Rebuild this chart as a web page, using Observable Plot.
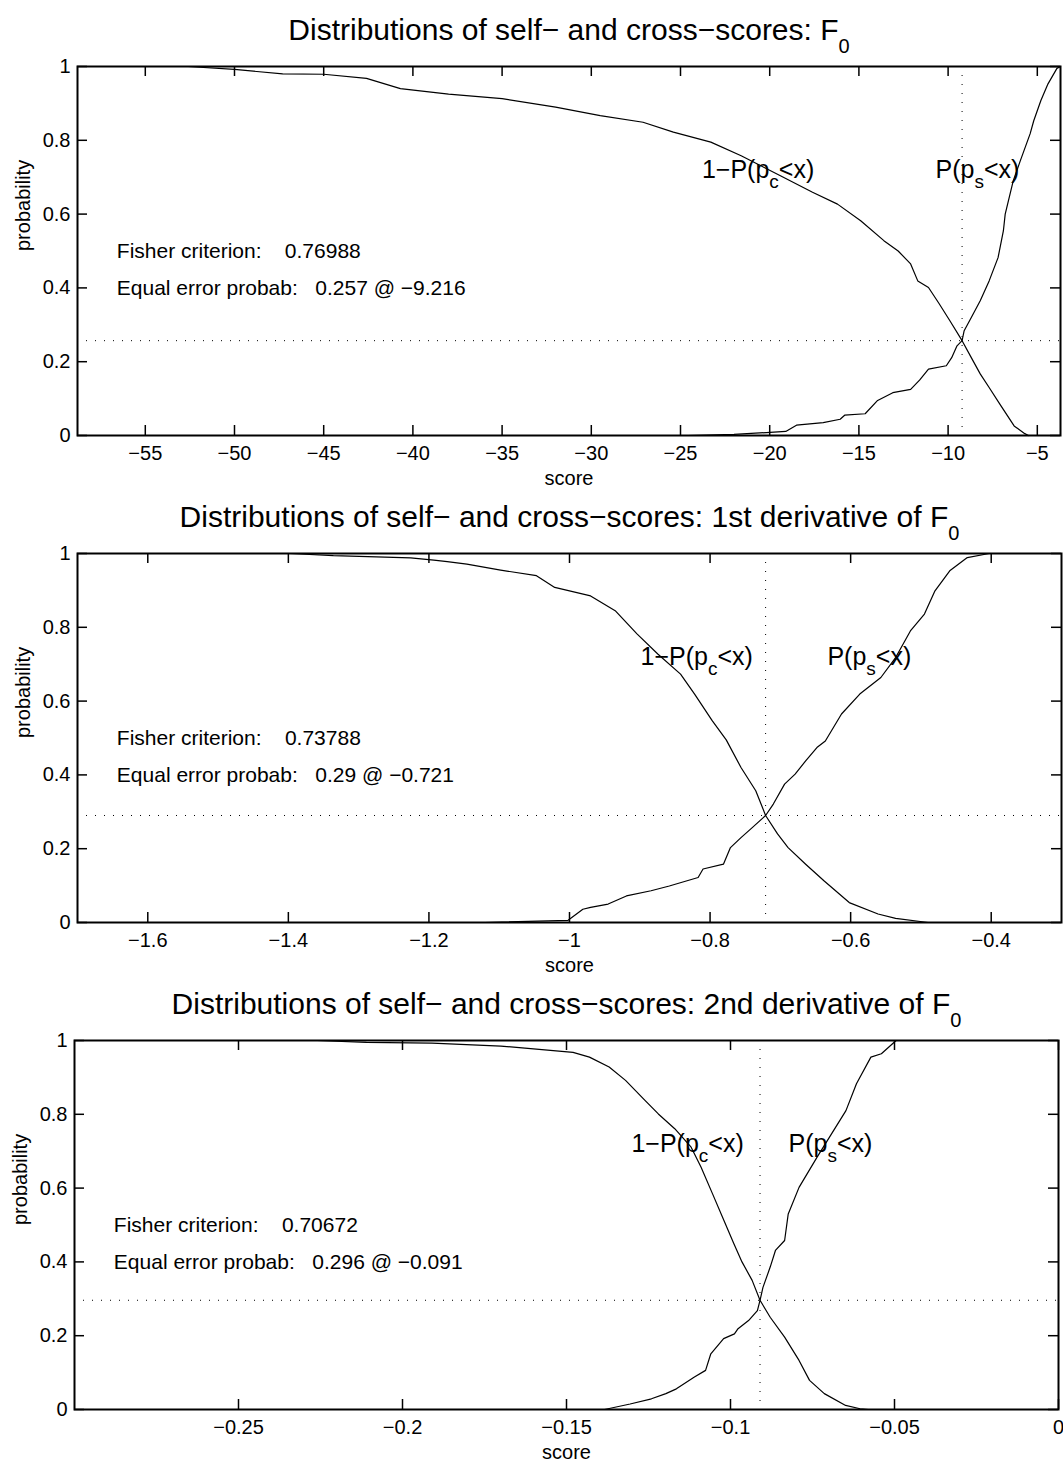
<!DOCTYPE html>
<html><head><meta charset="utf-8">
<script src="https://cdn.jsdelivr.net/npm/d3@7"></script>
<script src="https://cdn.jsdelivr.net/npm/@observablehq/plot@0.6"></script>
<style>
body{margin:0;background:#fff;}
#wrap{position:relative;width:1063px;height:1463px;overflow:hidden;background:#fff;}
#wrap > div{position:absolute;left:0;}
svg text{white-space:pre;}
</style></head>
<body><div id="wrap"></div>
<script>
// ---------- data ----------
const yTicks = [0, 0.2, 0.4, 0.6, 0.8, 1];
const p1XTicks = [-55, -50, -45, -40, -35, -30, -25, -20, -15, -10, -5];
const p2XTicks = [-1.6, -1.4, -1.2, -1, -0.8, -0.6, -0.4];
const p3XTicks = [-0.25, -0.2, -0.15, -0.1, -0.05, 0];

const titles = [
  "Distributions of self− and cross−scores: F_0",
  "Distributions of self− and cross−scores: 1st derivative of F_0",
  "Distributions of self− and cross−scores: 2nd derivative of F_0"
];
const curveLabels = ["1−P(p_c<x)", "P(p_s<x)"];
const xLabel = "score";
const yLabel = "probability";
const fisher = ["0.76988", "0.73788", "0.70672"];
const eerProb = [0.257, 0.29, 0.296];
const eerScore = [-9.216, -0.721, -0.091];

// panel 1: F0
const p1CrossX = [-58.8, -52.6, -50, -47.3, -45, -42.6, -40.7, -38, -35, -32, -29.5, -27.1, -25.4, -23.3, -21.6, -19.4, -17.6, -16.2, -14.9, -13.6, -12.8, -12.1, -11.7, -11.1, -10.5, -9.9, -9.216, -8.7, -8.2, -7.7, -7.1, -6.3, -5.7, -5.5];
const p1CrossY = [1, 1, 0.992, 0.98, 0.979, 0.968, 0.94, 0.925, 0.913, 0.89, 0.867, 0.849, 0.822, 0.795, 0.758, 0.704, 0.659, 0.627, 0.582, 0.528, 0.5, 0.465, 0.419, 0.401, 0.357, 0.311, 0.257, 0.211, 0.167, 0.13, 0.085, 0.026, 0.005, 0];
const p1SelfX = [-58.8, -24.6, -22, -20.2, -19.1, -18.5, -17.0, -16.05, -15.8, -14.65, -13.95, -13.1, -12.1, -11.6, -11.1, -10.1, -9.8, -9.5, -9.216, -9.1, -8.7, -8.2, -7.7, -7.2, -6.9, -6.8, -6.35, -5.95, -5.4, -5.2, -4.8, -4.4, -3.9, -3.7];
const p1SelfY = [0, 0, 0.003, 0.008, 0.011, 0.028, 0.035, 0.044, 0.055, 0.059, 0.095, 0.116, 0.125, 0.15, 0.18, 0.189, 0.211, 0.243, 0.257, 0.284, 0.32, 0.365, 0.419, 0.482, 0.555, 0.6, 0.69, 0.745, 0.818, 0.853, 0.908, 0.953, 0.995, 1];

// panel 2: 1st derivative
const p2CrossX = [-1.70, -1.397, -1.336, -1.226, -1.193, -1.174, -1.146, -1.098, -1.047, -1.021, -0.970, -0.935, -0.904, -0.874, -0.842, -0.822, -0.797, -0.777, -0.756, -0.735, -0.721, -0.704, -0.689, -0.664, -0.638, -0.602, -0.561, -0.536, -0.49];
const p2CrossY = [1, 1, 0.994, 0.988, 0.982, 0.978, 0.971, 0.955, 0.94, 0.908, 0.885, 0.845, 0.782, 0.727, 0.673, 0.619, 0.547, 0.495, 0.42, 0.357, 0.29, 0.24, 0.203, 0.158, 0.113, 0.054, 0.023, 0.011, 0];
const p2SelfX = [-1.70, -1.12, -1.002, -0.981, -0.970, -0.945, -0.919, -0.884, -0.858, -0.817, -0.81, -0.781, -0.771, -0.756, -0.740, -0.721, -0.710, -0.694, -0.679, -0.664, -0.648, -0.636, -0.613, -0.587, -0.557, -0.536, -0.515, -0.495, -0.48, -0.459, -0.434, -0.403, -0.30];
const p2SelfY = [0, 0, 0.006, 0.036, 0.041, 0.05, 0.072, 0.086, 0.099, 0.122, 0.145, 0.158, 0.203, 0.23, 0.257, 0.29, 0.321, 0.375, 0.402, 0.438, 0.474, 0.492, 0.565, 0.619, 0.664, 0.718, 0.79, 0.836, 0.899, 0.953, 0.989, 1, 1];

// panel 3: 2nd derivative
const p3CrossX = [-0.30, -0.226, -0.211, -0.191, -0.170, -0.148, -0.143, -0.137, -0.132, -0.126, -0.122, -0.117, -0.112, -0.109, -0.1055, -0.102, -0.099, -0.0965, -0.0934, -0.091, -0.0879, -0.0835, -0.0791, -0.0759, -0.0714, -0.0649, -0.0605, -0.058];
const p3CrossY = [1, 1, 0.995, 0.993, 0.985, 0.968, 0.955, 0.928, 0.892, 0.837, 0.801, 0.761, 0.711, 0.657, 0.585, 0.512, 0.45, 0.40, 0.35, 0.296, 0.25, 0.196, 0.133, 0.079, 0.043, 0.011, 0.002, 0];
const p3SelfX = [-0.30, -0.1384, -0.1306, -0.1241, -0.1197, -0.1165, -0.111, -0.1076, -0.106, -0.1021, -0.0988, -0.0977, -0.0945, -0.0918, -0.091, -0.0901, -0.0879, -0.0863, -0.0835, -0.0824, -0.0791, -0.0736, -0.0692, -0.0648, -0.0616, -0.0572, -0.054, -0.0495, 0];
const p3SelfY = [0, 0, 0.015, 0.029, 0.043, 0.056, 0.088, 0.106, 0.151, 0.192, 0.205, 0.219, 0.241, 0.268, 0.296, 0.331, 0.386, 0.431, 0.458, 0.53, 0.602, 0.684, 0.747, 0.81, 0.883, 0.955, 0.964, 1, 1];

// ---------- layout ----------
const W = 1063;
const panels = [
  {top: 0,   height: 485, mt: 66, mb: 50, ml: 77, mr: 3, crossX: p1CrossX, crossY: p1CrossY, selfX: p1SelfX, selfY: p1SelfY, xTicks: p1XTicks, labelX: [-23.8, -10.7]},
  {top: 480, height: 492, mt: 73, mb: 50, ml: 77, mr: 2, crossX: p2CrossX, crossY: p2CrossY, selfX: p2SelfX, selfY: p2SelfY, xTicks: p2XTicks, labelX: [-0.899, -0.633]},
  {top: 972, height: 487, mt: 68, mb: 50, ml: 74, mr: 5, crossX: p3CrossX, crossY: p3CrossY, selfX: p3SelfX, selfY: p3SelfY, xTicks: p3XTicks, labelX: [-0.1302, -0.0823]}
];

const fmt = d => d < 0 ? "−" + String(-d) : String(d);
const font = "'Liberation Sans', Arial, Helvetica, sans-serif";

function subscriptify(svg) {
  d3.select(svg).selectAll("text").each(function () {
    const t = this.textContent;
    if (!t.includes("_")) return;
    const g = this.closest("[font-size]");
    const fs = g ? +g.getAttribute("font-size") : 20;
    const shift = fs >= 28 ? 13 : 10;
    const subSize = fs >= 28 ? 20 : 19;
    const parts = t.split(/_(.)/);
    const sel = d3.select(this);
    sel.text(null);
    parts.forEach((p, k) => {
      if (k === 0) sel.append("tspan").text(p);
      else if (k % 2 === 1) sel.append("tspan").attr("dy", shift).attr("font-size", subSize).text(p);
      else if (p) sel.append("tspan").attr("dy", -shift).text(p);
    });
  });
}

panels.forEach((cfg, i) => {
  const cross = cfg.crossX.map((x, j) => ({x, y: cfg.crossY[j]}));
  const self = cfg.selfX.map((x, j) => ({x, y: cfg.selfY[j]}));
  const [x0, x1] = d3.extent([...cfg.crossX, ...cfg.selfX]);
  const plotH = cfg.height - cfg.mt - cfg.mb;
  const plotW = W - cfg.ml - cfg.mr;
  const stats = [
    `Fisher criterion:    ${fisher[i]}`,
    `Equal error probab:   ${eerProb[i]} @ ${fmt(eerScore[i])}`
  ];
  const chart = Plot.plot({
    width: W, height: cfg.height,
    marginTop: cfg.mt, marginBottom: cfg.mb, marginLeft: cfg.ml, marginRight: cfg.mr,
    x: {domain: [x0, x1], label: null},
    y: {domain: [0, 1], label: null},
    style: {fontFamily: font, background: "transparent", color: "black", overflow: "visible"},
    marks: [
      Plot.ruleY([eerProb[i]], {y: d => d, stroke: "black", strokeWidth: 1, strokeDasharray: "1,8"}),
      Plot.ruleX([eerScore[i]], {x: d => d, stroke: "black", strokeWidth: 1, strokeDasharray: "1,8"}),
      Plot.line(cross, {x: "x", y: "y", stroke: "black", strokeWidth: 1.2}),
      Plot.line(self, {x: "x", y: "y", stroke: "black", strokeWidth: 1.2}),
      Plot.tickX(cfg.xTicks, {x: d => d, insetTop: plotH - 10, stroke: "black", strokeWidth: 1.5}),
      Plot.tickX(cfg.xTicks, {x: d => d, insetBottom: plotH - 10, stroke: "black", strokeWidth: 1.5}),
      Plot.tickY(yTicks, {y: d => d, insetRight: plotW - 10, stroke: "black", strokeWidth: 1.5}),
      Plot.tickY(yTicks, {y: d => d, insetLeft: plotW - 10, stroke: "black", strokeWidth: 1.5}),
      Plot.axisX(cfg.xTicks, {tickSize: 0, tickPadding: 10, tickFormat: fmt, fontSize: 20, label: null}),
      Plot.axisY(yTicks, {tickSize: 0, tickPadding: 7, tickFormat: fmt, fontSize: 20, label: null}),
      Plot.frame({stroke: "black", strokeWidth: 2}),
      Plot.text([titles[i]], {text: d => d, frameAnchor: "top", dy: -27, lineAnchor: "bottom", fontSize: 30}),
      Plot.text(stats, {text: d => d, x: x0 + 0.04 * (x1 - x0), y: (d, j) => 0.5 - 0.1 * j, textAnchor: "start", lineAnchor: "middle", fontSize: 21}),
      Plot.text(curveLabels, {text: d => d, x: (d, j) => cfg.labelX[j], y: 0.72, textAnchor: "start", lineAnchor: "middle", fontSize: 25}),
      Plot.text([xLabel], {text: d => d, frameAnchor: "bottom", dy: 43, lineAnchor: "middle", fontSize: 20}),
      Plot.text([yLabel], {text: d => d, frameAnchor: "left", dx: -54, rotate: -90, lineAnchor: "middle", fontSize: 20})
    ]
  });
  subscriptify(chart);
  const holder = document.createElement("div");
  holder.style.top = cfg.top + "px";
  holder.appendChild(chart);
  document.getElementById("wrap").appendChild(holder);
});
</script>
</body></html>
